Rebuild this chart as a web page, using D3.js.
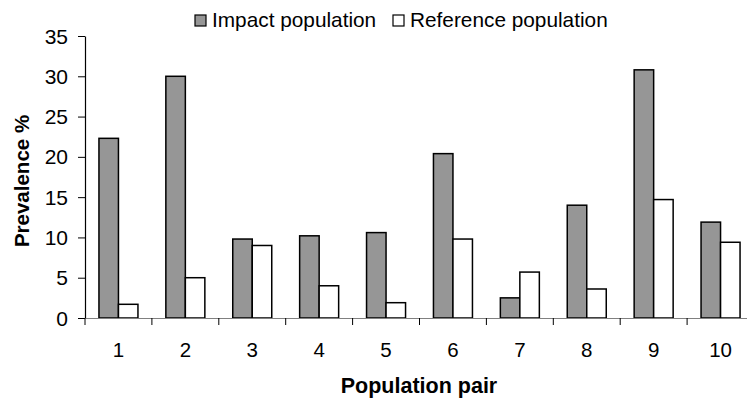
<!DOCTYPE html>
<html>
<head>
<meta charset="utf-8">
<script src="https://cdn.jsdelivr.net/npm/d3@7"></script>
<style>
  body { margin: 0; background: #fff; }
  svg { display: block; font-family: Arial, "Liberation Sans", sans-serif; }
</style>
</head>
<body>
<svg id="chart" width="747" height="400"></svg>
<script>
// values
const pairs = ['1', '2', '3', '4', '5', '6', '7', '8', '9', '10'];
const impact = [22.3, 30.0, 9.8, 10.2, 10.6, 20.4, 2.5, 14.0, 30.8, 11.9];
const reference = [1.7, 5.0, 9.0, 4.0, 1.9, 9.8, 5.7, 3.6, 14.7, 9.4];
const seriesNames = ['Impact population', 'Reference population'];
const seriesFill = ['#969696', '#ffffff'];
const yTicks = [0, 5, 10, 15, 20, 25, 30, 35];

const svg = d3.select('#chart');
const font = 'Arial, "Liberation Sans", sans-serif';
// plot area, right edge runs past the window like in the original
const plotLeft = 85, plotRight = 754, plotTop = 36, plotBottom = 318;

const x = d3.scaleBand().domain(pairs).range([plotLeft, plotRight]).paddingInner(0).paddingOuter(0);
const y = d3.scaleLinear().domain([0, 35]).range([plotBottom, plotTop]);
const barW = 19.5;

// y axis
const yAxis = svg.append('g')
  .attr('transform', `translate(${plotLeft},0)`)
  .call(d3.axisLeft(y).tickValues(yTicks).tickSize(7).tickPadding(10).tickSizeOuter(0));
yAxis.select('.domain').attr('stroke', '#000').attr('stroke-width', 1.2);
yAxis.selectAll('.tick line').attr('stroke', '#000');
yAxis.selectAll('.tick text').attr('font-size', 21).attr('fill', '#000')
  .attr('font-family', font).attr('dy', '0.34em');

// bars
const groups = svg.append('g').selectAll('g')
  .data(pairs)
  .join('g')
  .attr('transform', d => `translate(${x(d) + x.bandwidth() / 2 - barW},0)`);

groups.append('rect')
  .attr('x', 0)
  .attr('y', (d, i) => y(impact[i]))
  .attr('width', barW)
  .attr('height', (d, i) => y(0) - y(impact[i]))
  .attr('fill', seriesFill[0])
  .attr('stroke', '#000')
  .attr('stroke-width', 1.5);

groups.append('rect')
  .attr('x', barW)
  .attr('y', (d, i) => y(reference[i]))
  .attr('width', barW)
  .attr('height', (d, i) => y(0) - y(reference[i]))
  .attr('fill', seriesFill[1])
  .attr('stroke', '#000')
  .attr('stroke-width', 1.5);

// x axis, ticks between categories
const xAxis = svg.append('g')
  .attr('transform', `translate(0,${plotBottom})`)
  .call(d3.axisBottom(x).tickSize(0).tickPadding(24));
xAxis.select('.domain').attr('stroke', '#808080').attr('stroke-width', 1.2);
xAxis.selectAll('.tick text').attr('font-size', 20.5).attr('fill', '#000')
  .attr('font-family', font);
svg.append('g').selectAll('line')
  .data(pairs)
  .join('line')
  .attr('x1', d => x(d)).attr('x2', d => x(d))
  .attr('y1', plotBottom).attr('y2', plotBottom + 7)
  .attr('stroke', '#000');

// axis titles
svg.append('text')
  .attr('x', 419).attr('y', 393)
  .attr('text-anchor', 'middle')
  .attr('font-size', 21.5).attr('font-weight', 'bold')
  .text('Population pair');

svg.append('text')
  .attr('transform', 'translate(29,181) rotate(-90)')
  .attr('text-anchor', 'middle')
  .attr('font-size', 20.5).attr('font-weight', 'bold')
  .text('Prevalence %');

// legend
const legendX = [195, 393];
const legend = svg.append('g').selectAll('g')
  .data(seriesNames)
  .join('g')
  .attr('transform', (d, i) => `translate(${legendX[i]},15)`);
legend.append('rect')
  .attr('width', 11).attr('height', 11)
  .attr('fill', (d, i) => seriesFill[i])
  .attr('stroke', '#000').attr('stroke-width', 1.2);
legend.append('text')
  .attr('x', 17).attr('y', 12.3)
  .attr('font-size', 20.8)
  .text(d => d);
</script>
</body>
</html>
